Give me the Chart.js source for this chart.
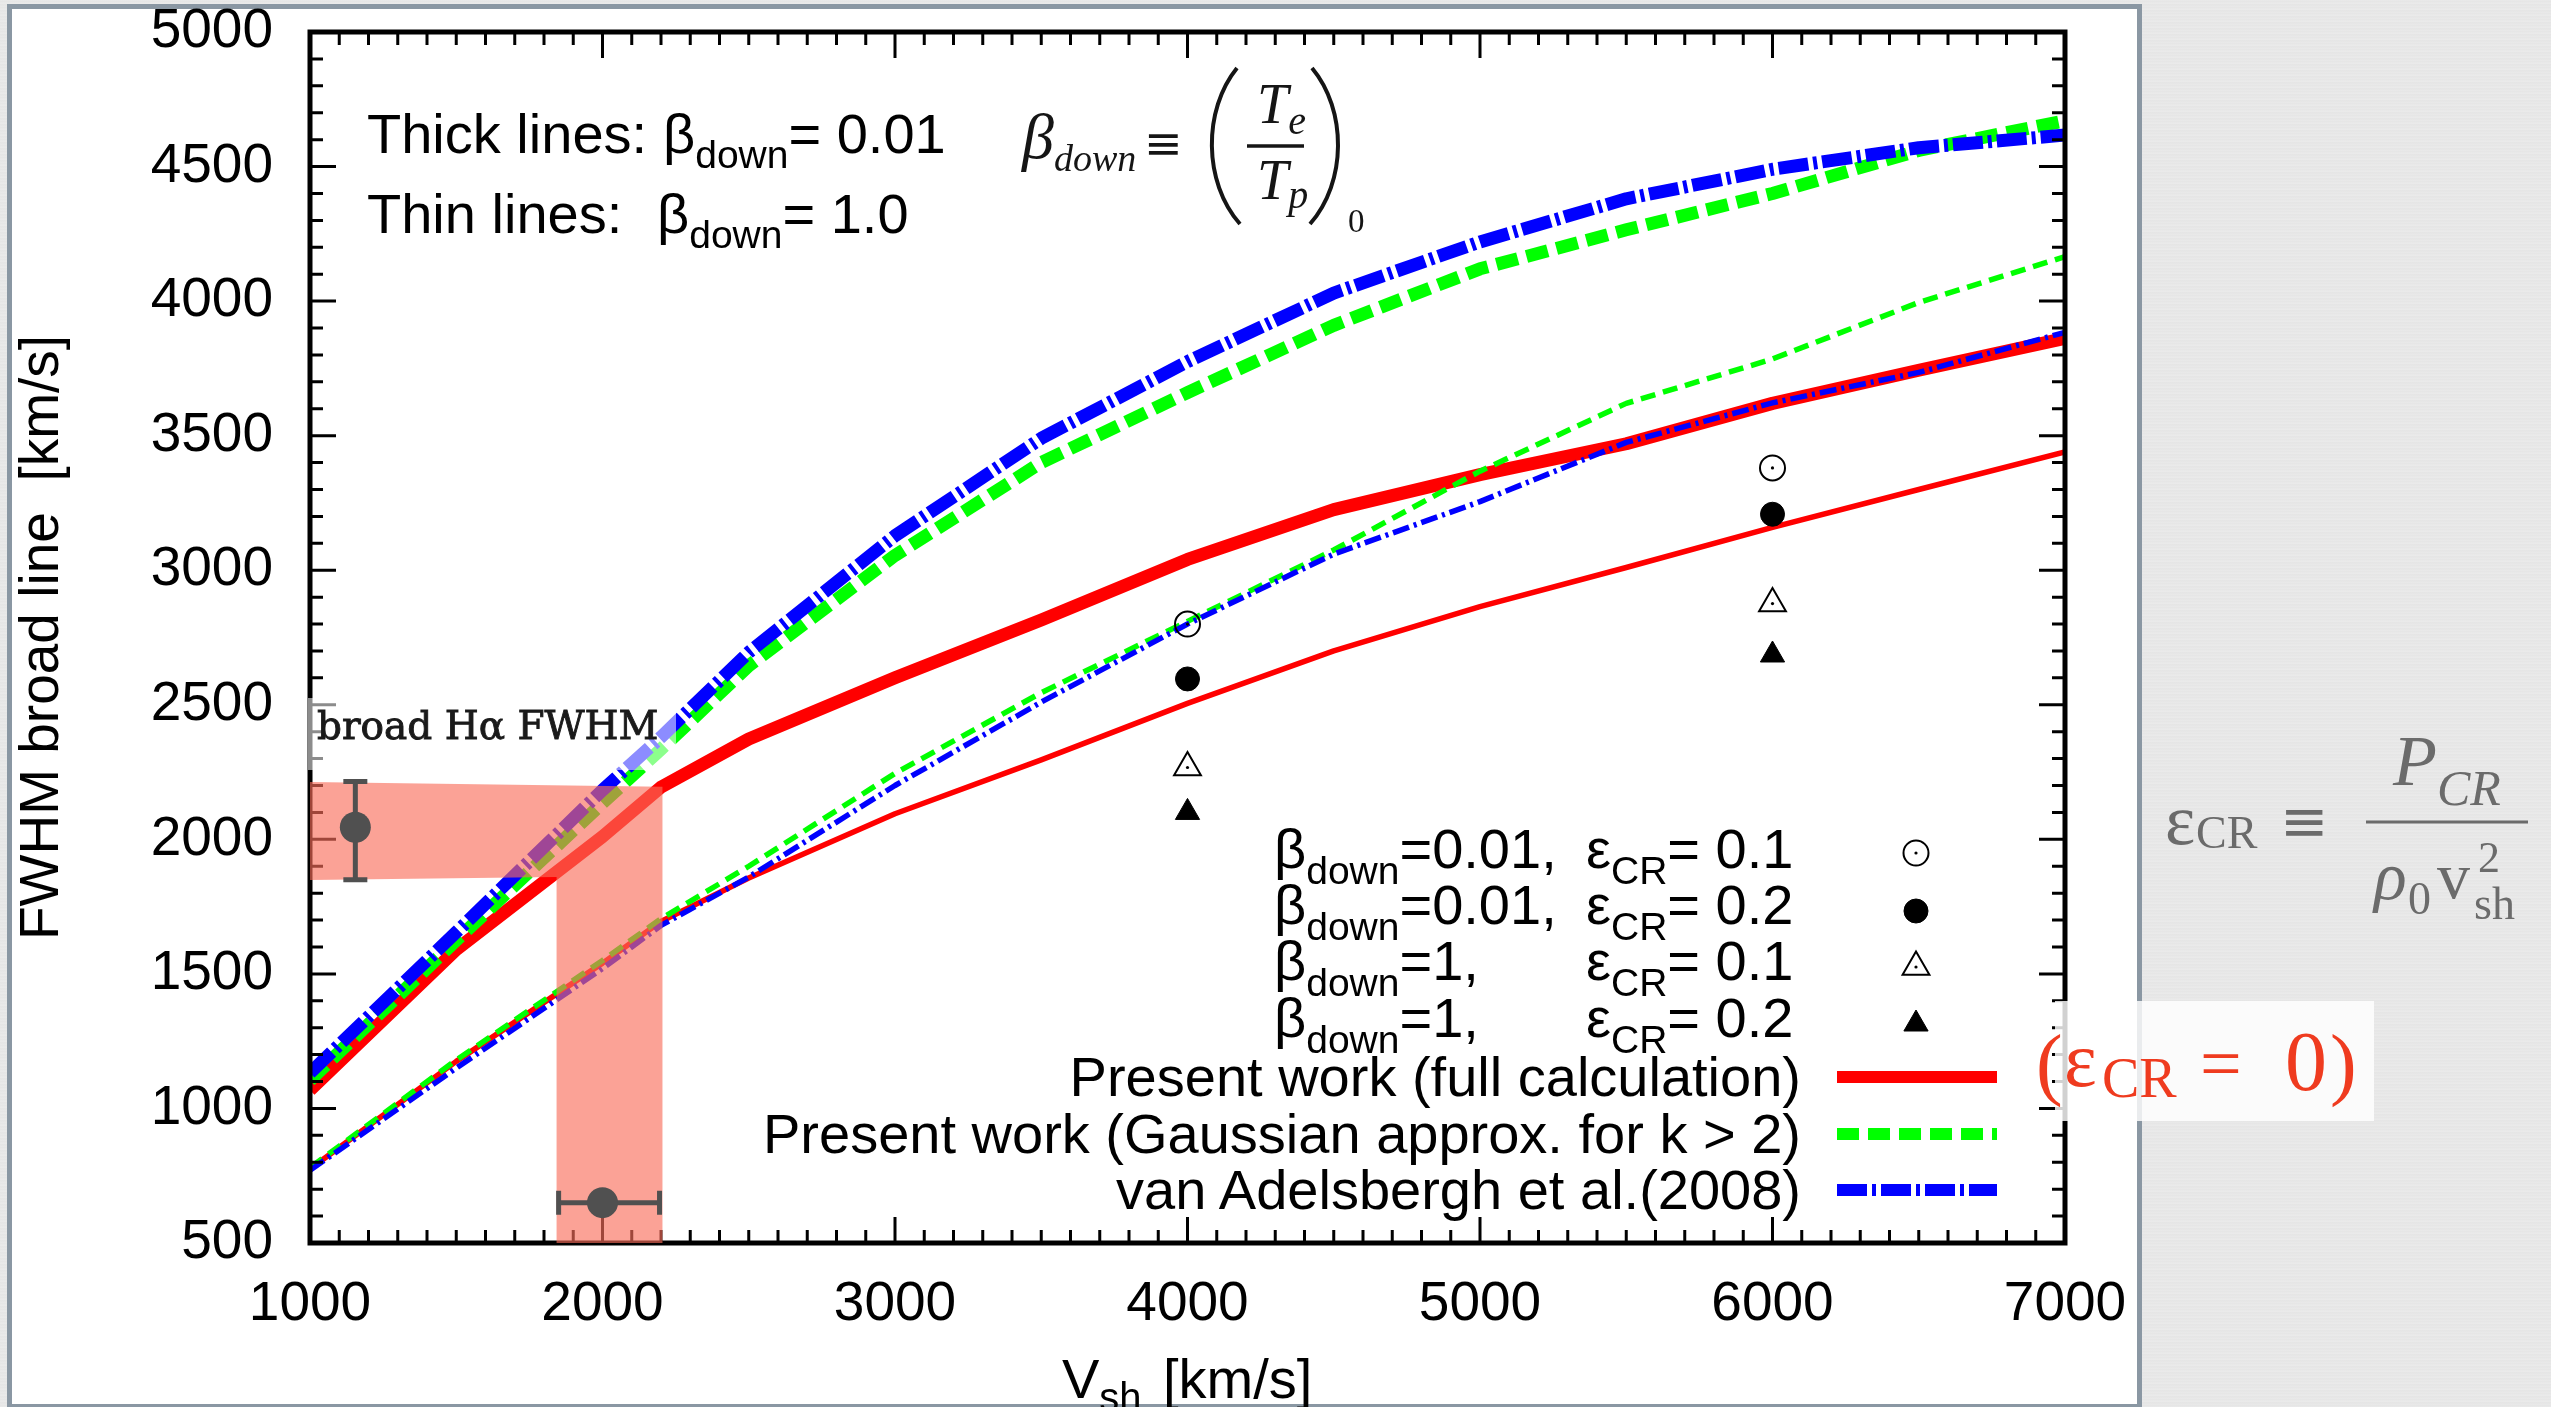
<!DOCTYPE html>
<html>
<head>
<meta charset="utf-8">
<script src="https://cdn.jsdelivr.net/npm/chart.js"></script>
<style>
html,body{margin:0;padding:0;width:2551px;height:1407px;overflow:hidden;
  background:#e8e8e8 repeating-linear-gradient(0deg,#ececec 0px,#e5e5e5 1px,#eaeaea 3px,#e3e3e3 4px,#ececec 6px);}
#panel{position:absolute;left:7px;top:4px;width:2125px;height:1395px;background:#fff;border:5px solid #8a97a3;border-bottom-width:3px;}
#c{position:absolute;left:0;top:0;}
#ov{position:absolute;left:0;top:0;pointer-events:none;}
</style>
</head>
<body>
<div id="panel"></div>
<canvas id="c" width="2551" height="1407"></canvas>
<svg id="ov" width="2551" height="1407" xmlns="http://www.w3.org/2000/svg">
  <g font-family="'Liberation Sans', Arial, Helvetica, sans-serif" fill="#000" font-size="56">
    <text x="367" y="153">Thick lines:<tspan x="663">β</tspan><tspan font-size="39" dy="15">down</tspan><tspan dy="-15">= 0.01</tspan></text>
    <text x="367" y="233">Thin lines:<tspan x="657">β</tspan><tspan font-size="39" dy="15">down</tspan><tspan dy="-15">= 1.0</tspan></text>

    <!-- legend -->
    <text x="1274" y="868">β<tspan font-size="39" dy="16">down</tspan><tspan dy="-16">=0.01,</tspan></text>
    <text x="1586" y="868">ε<tspan font-size="39" dy="16">CR</tspan><tspan dy="-16">= 0.1</tspan></text>
    <text x="1274" y="924">β<tspan font-size="39" dy="16">down</tspan><tspan dy="-16">=0.01,</tspan></text>
    <text x="1586" y="924">ε<tspan font-size="39" dy="16">CR</tspan><tspan dy="-16">= 0.2</tspan></text>
    <text x="1274" y="980">β<tspan font-size="39" dy="16">down</tspan><tspan dy="-16">=1,</tspan></text>
    <text x="1586" y="980">ε<tspan font-size="39" dy="16">CR</tspan><tspan dy="-16">= 0.1</tspan></text>
    <text x="1274" y="1037">β<tspan font-size="39" dy="16">down</tspan><tspan dy="-16">=1,</tspan></text>
    <text x="1586" y="1037">ε<tspan font-size="39" dy="16">CR</tspan><tspan dy="-16">= 0.2</tspan></text>
    <text x="1801" y="1096" text-anchor="end">Present work (full calculation)</text>
    <text x="1801" y="1153" text-anchor="end">Present work (Gaussian approx. for k &gt; 2)</text>
    <text x="1801" y="1209" text-anchor="end">van Adelsbergh et al.(2008)</text>

    <!-- x axis title -->
    <text x="1062" y="1398">V<tspan font-size="40" dy="13">sh</tspan><tspan x="1163" dy="-13">[km/s]</tspan></text>
  </g>

  <!-- beta_down definition -->
  <g font-family="'Liberation Serif', 'Times New Roman', serif" fill="#151515">
    <text x="1022" y="158" font-size="64" font-style="italic">β<tspan font-size="38" dy="13">down</tspan></text>
    <text x="1144" y="159" font-size="46" font-family="'DejaVu Sans', sans-serif">≡</text>
    <path d="M1237 68 C1203 110 1203 182 1240 224" fill="none" stroke="#151515" stroke-width="4"/>
    <path d="M1312 68 C1347 110 1347 182 1310 224" fill="none" stroke="#151515" stroke-width="4"/>
    <text x="1257" y="123" font-size="56" font-style="italic">T<tspan font-size="40" dy="11">e</tspan></text>
    <line x1="1247" y1="146" x2="1304" y2="146" stroke="#151515" stroke-width="3.5"/>
    <text x="1257" y="199" font-size="56" font-style="italic">T<tspan font-size="40" dy="9">p</tspan></text>
    <text x="1348" y="232" font-size="33">0</text>
  </g>

  <!-- broad H alpha label -->
  <rect x="308" y="698" width="368" height="72" fill="rgba(255,255,255,0.55)"/>
  <text x="317" y="739" font-family="'DejaVu Serif', serif" font-size="39" fill="#1a1a1a" stroke="#1a1a1a" stroke-width="0.9">broad Hα FWHM</text>

  <!-- epsilon_CR = 0 box -->
  <rect x="2055" y="1001" width="319" height="120" fill="rgba(255,255,255,0.82)"/>
  <g font-family="'Liberation Serif', 'Times New Roman', serif" fill="#ef3b1f">
    <text x="2036" y="1090" font-size="80">(</text>
    <text x="2064" y="1086" font-size="78">ε</text>
    <text x="2102" y="1097" font-size="56">CR</text>
    <text x="2200" y="1088" font-size="74">=</text>
    <text x="2285" y="1090" font-size="84">0</text>
    <text x="2330" y="1090" font-size="80">)</text>
  </g>

  <!-- epsilon_CR definition -->
  <g font-family="'Liberation Serif', 'Times New Roman', serif" fill="#6b6b6b">
    <text x="2165" y="844" font-size="72">ε</text>
    <text x="2196" y="848" font-size="46">CR</text>
    <text x="2280" y="841" font-size="58" font-family="'DejaVu Sans', sans-serif">≡</text>
    <line x1="2366" y1="822" x2="2528" y2="822" stroke="#6b6b6b" stroke-width="3"/>
    <text x="2393" y="785" font-size="72" font-style="italic">P</text>
    <text x="2437" y="805" font-size="50" font-style="italic">CR</text>
    <text x="2374" y="899" font-size="68" font-style="italic">ρ</text>
    <text x="2408" y="914" font-size="46">0</text>
    <text x="2437" y="898" font-size="66">v</text>
    <text x="2478" y="872" font-size="44">2</text>
    <text x="2474" y="919" font-size="46">sh</text>
  </g>
</svg>

<script>
// ---------------- data ----------------
const vsh        = [1000, 1500, 2000, 2200, 2500, 3000, 3500, 4000, 4500, 5000, 5500, 6000, 6500, 7000];
const fullThick  = [1068, 1590, 2010, 2194, 2373, 2600, 2815, 3040, 3225, 3355, 3470, 3620, 3743, 3862];
const gaussThick = [1105, 1625, 2135, 2335, 2645, 3055, 3400, 3660, 3910, 4120, 4265, 4400, 4560, 4670];
const vanThick   = [1132, 1655, 2183, 2380, 2695, 3128, 3490, 3775, 4030, 4220, 4380, 4490, 4570, 4617];
const fullThin   = [ 775, 1175, 1540, 1695, 1856, 2095, 2295, 2505, 2700, 2865, 3010, 3159, 3300, 3440];
const gaussThin  = [ 780, 1180, 1550, 1705, 1900, 2245, 2545, 2810, 3075, 3368, 3620, 3785, 3995, 4165];
const vanThin    = [ 770, 1150, 1520, 1680, 1860, 2200, 2510, 2800, 3060, 3255, 3475, 3622, 3735, 3884];

const mkV        = [4000, 6000];
const openCircF  = [2800, 3380];
const fillCircF  = [2596, 3208];
const openTriF   = [2267, 2876];
const fillTriF   = [2100, 2685];

const obsVsh     = [1155, 2000];
const obsFwhm    = [2045, 650];
const obsVshLo   = [1155, 1850];
const obsVshHi   = [1155, 2195];
const obsFwhmLo  = [1850, 650];
const obsFwhmHi  = [2215, 650];

const bandVsh    = [1000, 2205, 2205, 1843, 1843, 1000];
const bandFwhm   = [2213, 2195,  500,  500, 1860, 1849];

const xTicks = [1000, 2000, 3000, 4000, 5000, 6000, 7000];
const yTicks = [500, 1000, 1500, 2000, 2500, 3000, 3500, 4000, 4500, 5000];
const xMinorStep = 100;
const yMinorStep = 100;

// ---------------- styles ----------------
const FONT = "'Liberation Sans', Arial, Helvetica, sans-serif";
const RED = '#ff0000', GREEN = '#00ff00', BLUE = '#0000ff', GRAY = '#505050';
const DASH_G_THICK = [22, 9], DASH_G_THIN = [15, 8];
const DASH_B_THICK = [30, 5, 4, 5], DASH_B_THIN = [17, 5, 3, 5];

const pts = (xs, ys) => xs.map((x, i) => ({x: x, y: ys[i]}));

function lineSet(label, ys, color, width, dash, order) {
  return {label, data: pts(vsh, ys), borderColor: color, backgroundColor: color,
    borderWidth: width, borderDash: dash, borderCapStyle: 'butt', borderJoinStyle: 'round',
    pointRadius: 0, tension: 0, fill: false, clip: 0, order};
}
function markSet(label, xs, ys, style, radius, fill, stroke, bw, order) {
  return {label, data: pts(xs, ys), showLine: false, pointStyle: style, pointRadius: radius,
    pointBackgroundColor: fill, pointBorderColor: stroke, pointBorderWidth: bw,
    borderColor: stroke, backgroundColor: fill, order};
}

const datasets = [
  lineSet('Present work (full calculation), β=0.01', fullThick, RED, 13, [], 20),
  lineSet('Gaussian approx., β=0.01', gaussThick, GREEN, 13, DASH_G_THICK, 19),
  lineSet('van Adelsbergh et al.(2008), β=0.01', vanThick, BLUE, 13, DASH_B_THICK, 18),
  lineSet('Present work (full calculation), β=1', fullThin, RED, 5.5, [], 17),
  lineSet('Gaussian approx., β=1', gaussThin, GREEN, 5.5, DASH_G_THIN, 16),
  lineSet('van Adelsbergh et al.(2008), β=1', vanThin, BLUE, 5.5, DASH_B_THIN, 15),
  markSet('β=0.01, ε=0.1', mkV, openCircF, 'circle', 12.5, 'rgba(0,0,0,0)', '#000', 2, 10),
  markSet('dot1', mkV, openCircF, 'circle', 1.6, '#000', '#000', 0, 9),
  markSet('β=0.01, ε=0.2', mkV, fillCircF, 'circle', 12, '#000', '#000', 1, 8),
  markSet('β=1, ε=0.1', mkV, openTriF, 'triangle', 15.5, 'rgba(0,0,0,0)', '#000', 2, 7),
  markSet('dot2', mkV, openTriF, 'circle', 1.6, '#000', '#000', 0, 6),
  markSet('β=1, ε=0.2', mkV, fillTriF, 'triangle', 14, '#000', '#000', 1, 5),
  markSet('observed', obsVsh, obsFwhm, 'circle', 15.5, GRAY, GRAY, 0, 1)
];
const FIRST_MARKER = 6, OBS = 12;

function drawFrame(chart) {
  const {ctx, chartArea: a, scales: {x, y}} = chart;
  ctx.save();
  ctx.strokeStyle = '#000';
  ctx.lineWidth = 3;
  ctx.beginPath();
  for (let v = x.min; v <= x.max; v += xMinorStep) {
    const px = x.getPixelForValue(v);
    const L = xTicks.includes(v) ? 26 : 13;
    ctx.moveTo(px, a.bottom); ctx.lineTo(px, a.bottom - L);
    ctx.moveTo(px, a.top); ctx.lineTo(px, a.top + L);
  }
  for (let v = y.min; v <= y.max; v += yMinorStep) {
    const py = y.getPixelForValue(v);
    const L = yTicks.includes(v) ? 26 : 13;
    ctx.moveTo(a.left, py); ctx.lineTo(a.left + L, py);
    ctx.moveTo(a.right, py); ctx.lineTo(a.right - L, py);
  }
  ctx.stroke();
  ctx.lineWidth = 5;
  ctx.strokeRect(a.left, a.top, a.right - a.left, a.bottom - a.top);
  ctx.restore();
}

function drawBandAndErrors(chart) {
  const {ctx, scales: {x, y}} = chart;
  ctx.save();
  ctx.fillStyle = 'rgba(248,110,90,0.64)';
  ctx.beginPath();
  bandVsh.forEach((v, i) => {
    const px = x.getPixelForValue(v), py = y.getPixelForValue(bandFwhm[i]);
    if (i === 0) ctx.moveTo(px, py); else ctx.lineTo(px, py);
  });
  ctx.closePath();
  ctx.fill();
  ctx.strokeStyle = GRAY;
  ctx.lineWidth = 5;
  ctx.beginPath();
  obsVsh.forEach((v, i) => {
    const cx = x.getPixelForValue(v), cy = y.getPixelForValue(obsFwhm[i]);
    if (obsFwhmLo[i] !== obsFwhmHi[i]) {
      const y1 = y.getPixelForValue(obsFwhmLo[i]), y2 = y.getPixelForValue(obsFwhmHi[i]);
      ctx.moveTo(cx, y1); ctx.lineTo(cx, y2);
      ctx.moveTo(cx - 12, y1); ctx.lineTo(cx + 12, y1);
      ctx.moveTo(cx - 12, y2); ctx.lineTo(cx + 12, y2);
    }
    if (obsVshLo[i] !== obsVshHi[i]) {
      const x1 = x.getPixelForValue(obsVshLo[i]), x2 = x.getPixelForValue(obsVshHi[i]);
      ctx.moveTo(x1, cy); ctx.lineTo(x2, cy);
      ctx.moveTo(x1, cy - 12); ctx.lineTo(x1, cy + 12);
      ctx.moveTo(x2, cy - 12); ctx.lineTo(x2, cy + 12);
    }
  });
  ctx.stroke();
  ctx.restore();
}

function marker(ctx, style, r, filled, cx, cy) {
  ctx.beginPath();
  if (style === 'circle') {
    ctx.arc(cx, cy, r, 0, Math.PI * 2);
  } else {
    let rad = 0;
    ctx.moveTo(cx + Math.sin(rad) * r, cy - Math.cos(rad) * r);
    rad += 2 * Math.PI / 3; ctx.lineTo(cx + Math.sin(rad) * r, cy - Math.cos(rad) * r);
    rad += 2 * Math.PI / 3; ctx.lineTo(cx + Math.sin(rad) * r, cy - Math.cos(rad) * r);
    ctx.closePath();
  }
  if (filled) { ctx.fillStyle = '#000'; ctx.fill(); }
  ctx.lineWidth = filled ? 1 : 2; ctx.strokeStyle = '#000'; ctx.stroke();
  if (!filled) { ctx.beginPath(); ctx.arc(cx, cy, 1.6, 0, Math.PI * 2); ctx.fillStyle = '#000'; ctx.fill(); }
}

function drawLegendSamples(chart) {
  const ctx = chart.ctx;
  ctx.save();
  marker(ctx, 'circle', 12.5, false, 1916, 853);
  marker(ctx, 'circle', 12, true, 1916, 911);
  marker(ctx, 'triangle', 15.5, false, 1916, 967);
  marker(ctx, 'triangle', 14, true, 1916, 1024);
  const seg = (color, w, dash, yy) => {
    ctx.beginPath(); ctx.setLineDash(dash); ctx.lineCap = 'butt';
    ctx.strokeStyle = color; ctx.lineWidth = w;
    ctx.moveTo(1837, yy); ctx.lineTo(1997, yy); ctx.stroke();
  };
  seg(RED, 12, [], 1077);
  seg(GREEN, 12, DASH_G_THICK, 1134);
  seg(BLUE, 12, DASH_B_THICK, 1190);
  ctx.setLineDash([]);
  ctx.restore();
}

const decor = {
  id: 'decor',
  beforeDatasetDraw(chart, args) {
    if (args.index === FIRST_MARKER) drawFrame(chart);
    if (args.index === OBS) drawBandAndErrors(chart);
  },
  afterDraw(chart) { drawLegendSamples(chart); }
};

new Chart(document.getElementById('c'), {
  type: 'line',
  data: {datasets},
  plugins: [decor],
  options: {
    responsive: false,
    animation: false,
    events: [],
    devicePixelRatio: 1,
    layout: {padding: {left: 0, top: 32, right: 486, bottom: 0}},
    plugins: {legend: {display: false}, tooltip: {enabled: false}},
    scales: {
      x: {
        type: 'linear', min: 1000, max: 7000,
        afterBuildTicks: s => { s.ticks = xTicks.map(v => ({value: v})); },
        afterFit: s => { s.height = 164; s.paddingLeft = 0; s.paddingRight = 0; },
        grid: {display: false, drawTicks: false},
        border: {display: false},
        ticks: {font: {family: FONT, size: 55, lineHeight: 1}, color: '#000', padding: 34,
                maxRotation: 0, autoSkip: false, callback: v => String(v)}
      },
      y: {
        type: 'linear', min: 500, max: 5000,
        afterBuildTicks: s => { s.ticks = yTicks.map(v => ({value: v})); },
        afterFit: s => { s.width = 310; s.paddingTop = 0; s.paddingBottom = 0; },
        grid: {display: false, drawTicks: false},
        border: {display: false},
        ticks: {font: {family: FONT, size: 55, lineHeight: 1}, color: '#000', padding: 37,
                autoSkip: false, callback: v => String(v)},
        title: {display: true, text: 'FWHM broad line  [km/s]', color: '#000',
                font: {family: FONT, size: 55, lineHeight: 1.2}, padding: {top: 10, bottom: 0}}
      }
    }
  }
});
</script>
</body>
</html>
